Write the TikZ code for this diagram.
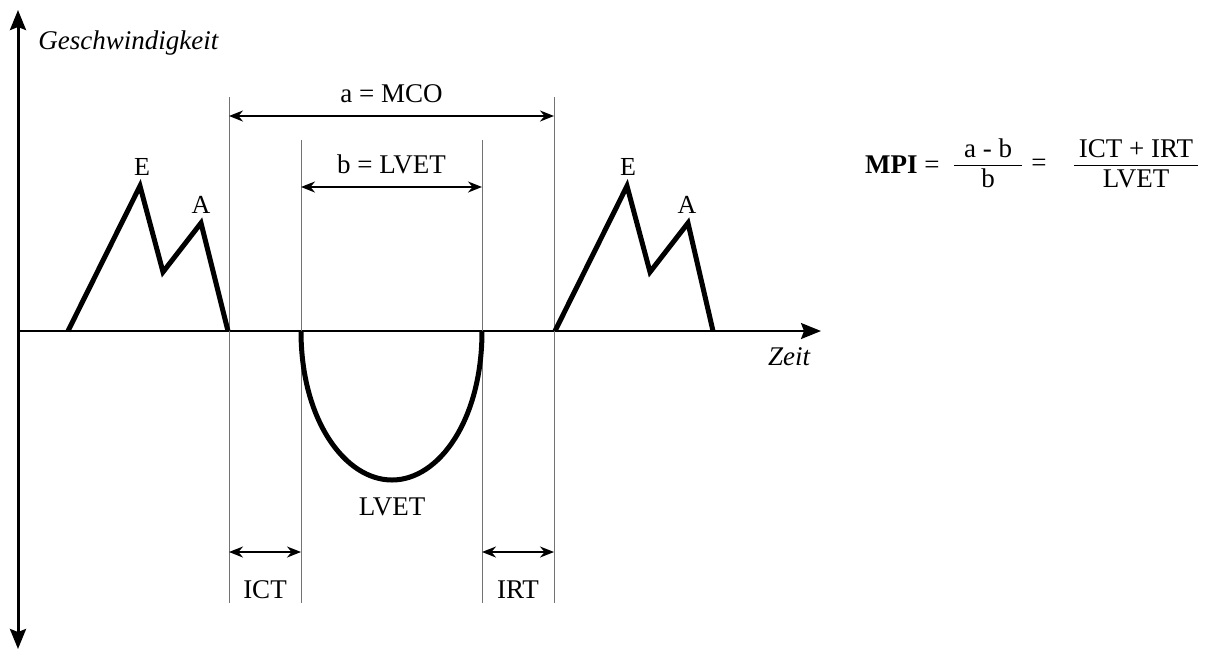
\documentclass[tikz,border=0pt]{standalone}
\usepackage{fontspec}
\setmainfont{Liberation Serif}
\usetikzlibrary{arrows.meta,calc}

\begin{document}
\begin{tikzpicture}[
  x=0.5pt, y=-0.5pt,
  font=\fontsize{13.5}{16}\selectfont,
  axis/.style={-{Stealth[length=10pt, width=8pt, inset=1.5pt]}, draw=black, line width=1.5pt},
  timeaxis/.style={axis, line width=1pt},
  marker/.style={draw=black!55, line width=0.5pt},
  span/.style={{Stealth[length=7pt, width=5.5pt]}-{Stealth[length=7pt, width=5.5pt]}, draw=black, line width=1pt},
  wave/.style={draw=black, line width=2.5pt, line join=miter},
  lbl/.style={inner sep=1pt, text=black},
  peak/.style={lbl, font=\fontsize{13}{15}\selectfont},
]
\useasboundingbox (0,0) rectangle (1210,650);

% ---- axes ----
\coordinate (origin) at (18,331);
\coordinate (vtop) at (18,10);
\coordinate (vbot) at (18,649);
\coordinate (tend) at (821,331);
\draw[axis] (origin) -- (vtop);
\draw[axis] (origin) -- (vbot);
\draw[timeaxis] (origin) -- (tend);
\node[lbl, anchor=west, font=\fontsize{13.5}{16}\itshape] (vname) at (36,43) {Geschwindigkeit};
\node[lbl, font=\fontsize{13.5}{16}\itshape] (tname) at (789,357) {Zeit};

% ---- time markers ----
\coordinate (mco-a) at (229,97);  \coordinate (mco-a') at (229,603);
\coordinate (lv-a)  at (301,140); \coordinate (lv-a')  at (301,603);
\coordinate (lv-b)  at (482,140); \coordinate (lv-b')  at (482,603);
\coordinate (mco-b) at (554,97);  \coordinate (mco-b') at (554,603);
\foreach \m in {mco-a, lv-a, lv-b, mco-b}
  \draw[marker] (\m) -- (\m');

% ---- spans ----
\draw[span] (mco-a |- 0,116) -- (mco-b |- 0,116)
  node[lbl, midway, above=5pt] (alabel) {a = MCO};
\draw[span] (lv-a |- 0,187) -- (lv-b |- 0,187)
  node[lbl, midway, above=5pt] (blabel) {b = LVET};
\draw[span] (mco-a |- 0,552) -- (lv-a |- 0,552)
  node[lbl, midway, below=13pt] (ict) {ICT};
\draw[span] (lv-b |- 0,552) -- (mco-b |- 0,552)
  node[lbl, midway, below=13pt] (irt) {IRT};

% ---- inflow waves ----
\draw[wave] (68,331) -- (140,186) -- (163,272) -- (201,223) -- (228,331);
\node[peak] (e1) at (142,167) {E};
\node[peak] (a1) at (201,205) {A};
\draw[wave] (555,331) -- (627,186) -- (650,272) -- (688,223) -- (713,331);
\node[peak] (e2) at (628,167) {E};
\node[peak] (a2) at (687,205) {A};

% ---- ejection ----
\draw[wave] (lv-a |- origin) .. controls (301,420) and (345,480) .. (392,480)
  .. controls (439,480) and (482,420) .. (lv-b |- origin);
\node[lbl] (lvet) at (392,507) {LVET};

% ---- index ----
\node[lbl, anchor=east] (mpi) at (942,165) {\textbf{MPI} =};
\node[lbl, inner sep=0pt] (frac1) at (988,166)
  {\begin{tabular}{@{\hspace{5pt}}c@{\hspace{5pt}}}a - b\\[-1pt]\hline b\end{tabular}};
\node[lbl] (eq2) at (1039,165) {=};
\node[lbl, inner sep=0pt] (frac2) at (1136,166)
  {\begin{tabular}{@{\hspace{2.5pt}}c@{\hspace{2.5pt}}}ICT + IRT\\[-1pt]\hline LVET\end{tabular}};

\end{tikzpicture}
\end{document}
